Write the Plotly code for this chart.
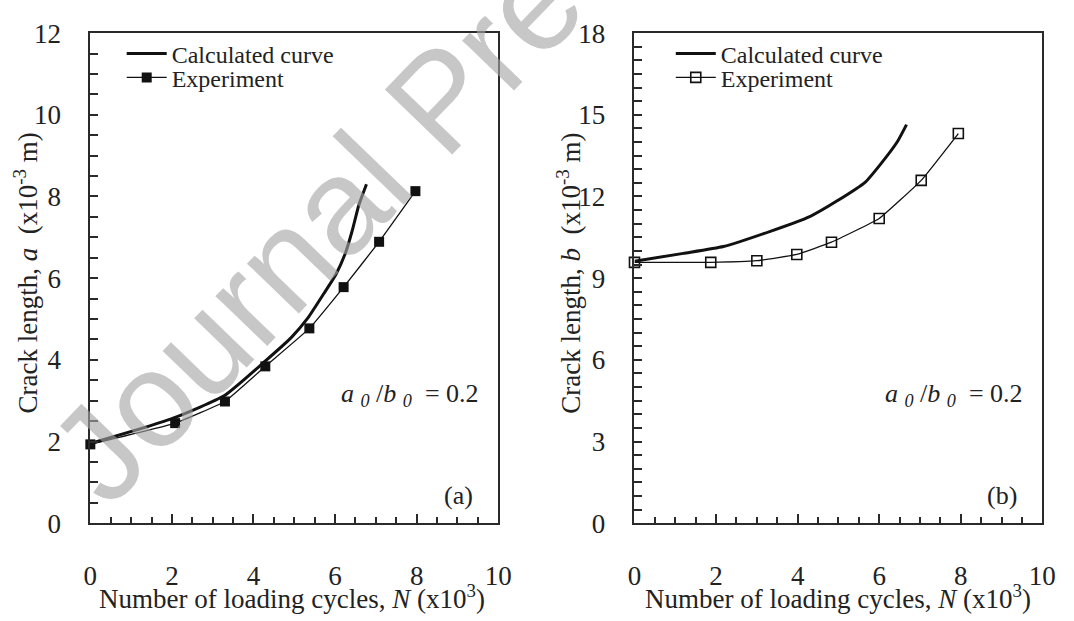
import plotly.graph_objects as go

# ---------------- data ----------------
calc_a_N = [0, 1.32, 2.08, 3.28, 4.3, 4.93, 5.33, 5.73, 6.02, 6.26, 6.42, 6.58, 6.77]
calc_a = [1.95, 2.34, 2.59, 3.12, 3.98, 4.55, 5.02, 5.63, 6.09, 6.63, 7.16, 7.78, 8.30]
exp_a_N = [0, 2.08, 3.3, 4.29, 5.37, 6.21, 7.08, 7.97]
exp_a = [1.93, 2.45, 2.98, 3.84, 4.77, 5.78, 6.89, 8.13]

calc_b_N = [0, 1.2, 2.18, 3.33, 4.31, 4.96, 5.66, 6.03, 6.44, 6.67]
calc_b = [9.62, 9.91, 10.16, 10.72, 11.27, 11.83, 12.53, 13.18, 14.0, 14.64]
exp_b_N = [0, 1.87, 3.0, 3.98, 4.83, 6.0, 7.03, 7.94]
exp_b = [9.58, 9.58, 9.64, 9.87, 10.32, 11.19, 12.59, 14.31]

x_ticks = [0, 2, 4, 6, 8, 10]
ya_ticks = [0, 2, 4, 6, 8, 10, 12]
yb_ticks = [0, 3, 6, 9, 12, 15, 18]

SERIF = "Liberation Serif"
AX = "#2a2a2a"
W, H = 1074, 621


def px(x):
    return x / W


def py(y):
    return 1 - y / H


fig = go.Figure()
fig.add_trace(go.Scatter(x=calc_a_N, y=calc_a, mode="lines", name="Calculated curve",
                         line=dict(color="#111", width=3, shape="spline", smoothing=0.5),
                         xaxis="x", yaxis="y", legend="legend", cliponaxis=False))
fig.add_trace(go.Scatter(x=exp_a_N, y=exp_a, mode="lines+markers", name="Experiment",
                         line=dict(color="#111", width=1.3, shape="spline", smoothing=0.3),
                         marker=dict(symbol="square", size=10, color="#111"),
                         xaxis="x", yaxis="y", legend="legend3", cliponaxis=False))
fig.add_trace(go.Scatter(x=calc_b_N, y=calc_b, mode="lines", name="Calculated curve",
                         line=dict(color="#111", width=3, shape="spline", smoothing=0.5),
                         xaxis="x2", yaxis="y2", legend="legend2", cliponaxis=False))
fig.add_trace(go.Scatter(x=exp_b_N, y=exp_b, mode="lines+markers", name="Experiment",
                         line=dict(color="#111", width=1.3, shape="spline", smoothing=0.3),
                         marker=dict(symbol="square-open", size=10, color="#111",
                                     line=dict(width=1.6, color="#111")),
                         xaxis="x2", yaxis="y2", legend="legend4", cliponaxis=False))

common_x = dict(range=[0, 10], tickmode="array", tickvals=x_ticks, ticks="inside", ticklen=9,
                tickwidth=1.5, tickcolor=AX, showline=True, linecolor=AX, linewidth=1.8,
                mirror=True, showgrid=False, zeroline=False, ticklabelstandoff=27,
                tickfont=dict(family=SERIF, size=27, color="#222"),
                minor=dict(dtick=0.5, tick0=0, ticks="inside", ticklen=6, tickwidth=1.5,
                           tickcolor=AX, showgrid=False))
common_y = dict(ticks="inside", ticklen=8, tickwidth=1.5, tickcolor=AX, showline=True,
                linecolor=AX, linewidth=1.8, mirror=True, showgrid=False, zeroline=False,
                ticklabelstandoff=22, tickmode="array",
                tickfont=dict(family=SERIF, size=27, color="#222"),
                minor=dict(dtick=0.5, tick0=0, ticks="inside", ticklen=8, tickwidth=1.5,
                           tickcolor=AX, showgrid=False))


def leg(x, y):
    return dict(x=px(x), y=py(y), xanchor="left", yanchor="middle", bgcolor="rgba(0,0,0,0)",
                font=dict(family=SERIF, size=24, color="#222"), itemwidth=40, borderwidth=0)


fig.update_layout(
    width=W, height=H, margin=dict(l=0, r=0, t=0, b=0),
    paper_bgcolor="white", plot_bgcolor="white",
    font=dict(family=SERIF),
    xaxis=dict(domain=[px(85), px(501)], anchor="y", **common_x),
    yaxis=dict(domain=[py(534), py(19)], anchor="x", range=[0, 12], tickvals=ya_ticks, **common_y),
    xaxis2=dict(domain=[px(640), px(1056)], anchor="y2", **common_x),
    yaxis2=dict(domain=[py(534), py(19)], anchor="x2", range=[0, 18], tickvals=yb_ticks, **common_y),
    legend=leg(117, 41), legend3=leg(117, 66),
    legend2=leg(677, 41), legend4=leg(677, 66),
    showlegend=True,
)

ann_font = dict(family=SERIF, size=27, color="#222")
NB = "\u00a0"
anns = [
    dict(text=f"Crack length, <i>a</i>{NB}{NB}(x10<sup>-3</sup> m)", x=px(19), y=py(271),
         textangle=-90, xanchor="center", yanchor="middle"),
    dict(text=f"Crack length, <i>b</i>{NB}{NB}(x10<sup>-3</sup> m)", x=px(573), y=py(271),
         textangle=-90, xanchor="center", yanchor="middle"),
    dict(text=f"Number of loading cycles, <i>N</i>{NB}(x10<sup>3</sup>)", x=px(291), y=py(612),
         xanchor="center", yanchor="middle"),
    dict(text=f"Number of loading cycles, <i>N</i>{NB}(x10<sup>3</sup>)", x=px(848), y=py(612),
         xanchor="center", yanchor="middle"),
]
for a in anns:
    fig.add_annotation(xref="paper", yref="paper", showarrow=False, font=ann_font, **a)

ratio = f"<i>a</i> <sub><i>0</i></sub> /<i>b</i> <sub><i>0</i></sub> {NB}= 0.2"
for x, y, t in [(411, 399, ratio), (966, 399, ratio), (460, 505, "(a)"), (1015, 505, "(b)")]:
    fig.add_annotation(xref="paper", yref="paper", showarrow=False, xanchor="center",
                       yanchor="middle", x=px(x), y=py(y), text=t,
                       font=dict(family=SERIF, size=26, color="#222"))

# watermark
fig.add_annotation(xref="paper", yref="paper", showarrow=False, x=px(441), y=py(89),
                   xanchor="center", yanchor="middle", text="Journal Pre-proof", textangle=-46,
                   font=dict(family="Liberation Sans", size=136,
                             color="rgba(165,165,165,0.62)"))

fig.write_html("out.html")
